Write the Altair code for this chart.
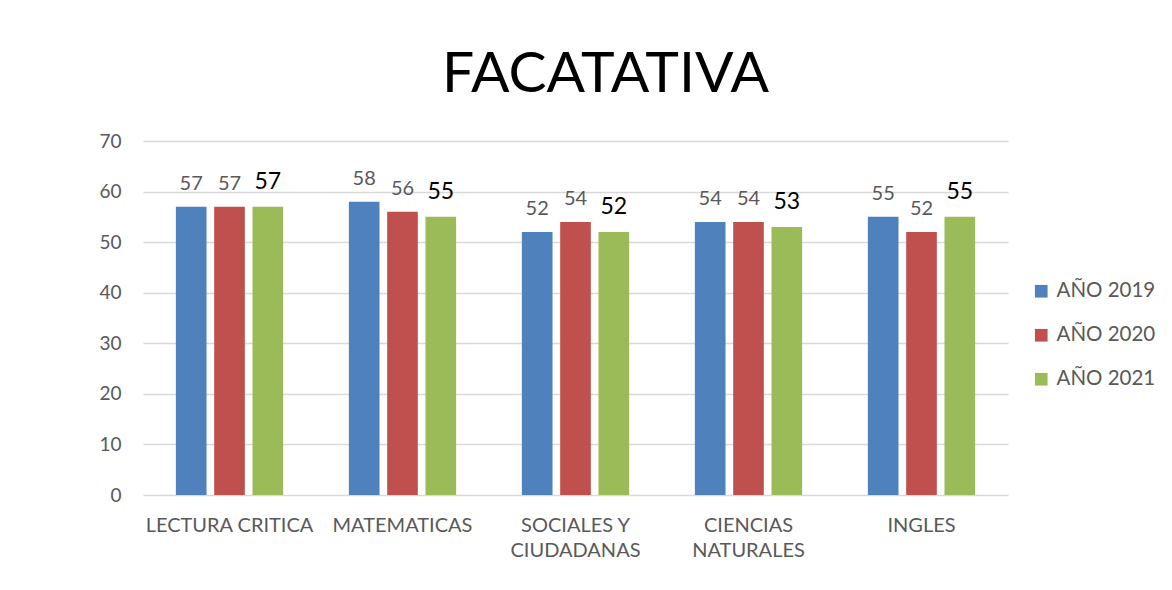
import altair as alt
import pandas as pd

categories = ["LECTURA CRITICA", "MATEMATICAS", "SOCIALES Y CIUDADANAS", "CIENCIAS NATURALES", "INGLES"]
series = ["AÑO 2019", "AÑO 2020", "AÑO 2021"]
v2019 = [57, 58, 52, 54, 55]
v2020 = [57, 56, 54, 54, 52]
v2021 = [57, 55, 52, 53, 55]
colors = ["#4F81BD", "#C0504D", "#9BBB59"]

rows = []
for s, vals in zip(series, [v2019, v2020, v2021]):
    for c, v in zip(categories, vals):
        rows.append({"cat": c, "serie": s, "valor": v})
df = pd.DataFrame(rows)

FONT = "Lato"
GRAY = "#595959"

x = alt.X("cat:N", sort=categories, title=None,
          scale=alt.Scale(paddingInner=0.38, paddingOuter=0.19),
          axis=alt.Axis(labelAngle=0, labelFontSize=20, labelColor=GRAY, labelFont=FONT,
                        labelPadding=20, ticks=False, domain=False, labelLineHeight=25,
                        labelExpr="datum.label == 'SOCIALES Y CIUDADANAS' ? ['SOCIALES Y','CIUDADANAS'] : datum.label == 'CIENCIAS NATURALES' ? ['CIENCIAS','NATURALES'] : datum.label"))
xo = alt.XOffset("serie:N", sort=series, scale=alt.Scale(paddingInner=0.2))
y = alt.Y("valor:Q", title=None,
          scale=alt.Scale(domain=[0, 70]),
          axis=alt.Axis(values=[0, 10, 20, 30, 40, 50, 60, 70], labelFontSize=19, labelColor=GRAY,
                        labelFont=FONT, labelPadding=22, ticks=False, domain=False,
                        gridColor="#D9D9D9", gridWidth=1.5))
color = alt.Color("serie:N", sort=series, scale=alt.Scale(domain=series, range=colors),
                  legend=alt.Legend(title=None, orient="none", legendX=888, legendY=140,
                                    symbolType="square", symbolSize=160, symbolStrokeWidth=0,
                                    labelFontSize=20.5, labelColor=GRAY, labelFont=FONT,
                                    rowPadding=23, labelOffset=5))

base = alt.Chart(df)
bars = base.mark_bar().encode(x=x, xOffset=xo, y=y, color=color)
labels_a = base.transform_filter("datum.serie != 'AÑO 2021'").mark_text(
    baseline="alphabetic", dy=-17, fontSize=20, color=GRAY, font=FONT
).encode(x=x, xOffset=xo, y=y, text="valor:Q")
labels_b = base.transform_filter("datum.serie == 'AÑO 2021'").mark_text(
    baseline="alphabetic", dy=-18, fontSize=23, color="#000000", font=FONT
).encode(x=x, xOffset=xo, y=y, text="valor:Q")

chart = alt.layer(bars, labels_a, labels_b).properties(
    width=865, height=354,
    title=alt.Title("FACATATIVA", fontSize=57, font=FONT, fontWeight="normal", color="#000000",
                    anchor="middle", dx=30, offset=28),
    autosize=alt.AutoSizeParams(type="none"),
    padding={"left": 135, "top": 133, "right": 156, "bottom": 87},
    background="white",
).configure_view(strokeWidth=0, stroke="transparent")

chart.save("out.html", embed_options={"renderer": "svg", "actions": False})
